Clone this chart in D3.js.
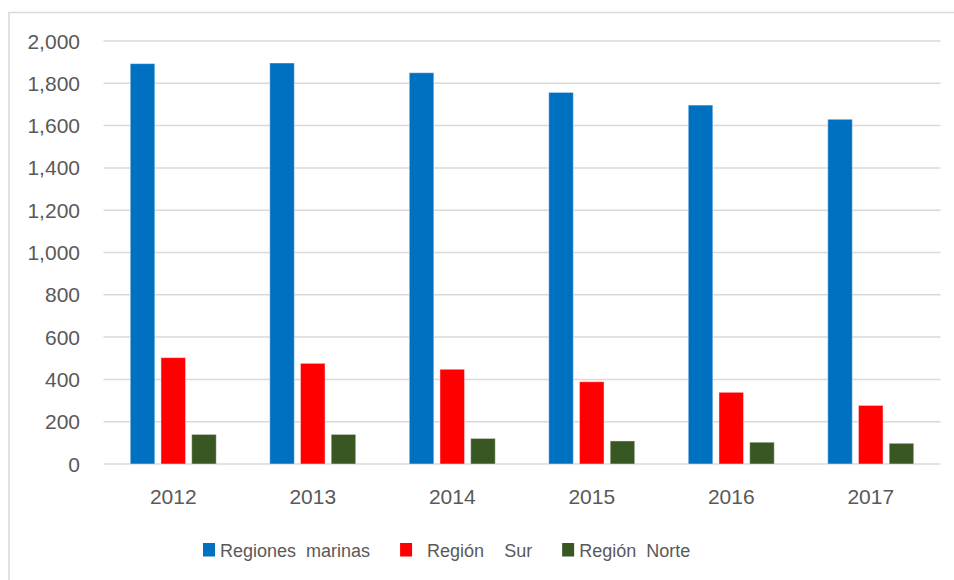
<!DOCTYPE html>
<html>
<head>
<meta charset="utf-8">
<script src="https://cdn.jsdelivr.net/npm/d3@7"></script>
<style>
  html, body { margin: 0; padding: 0; background: #fff; }
  svg text { font-family: "Liberation Sans", Arial, sans-serif; fill: #595959; }
</style>
</head>
<body>
<svg id="chart" width="954" height="580"></svg>
<script>
const years = ["2012", "2013", "2014", "2015", "2016", "2017"];
const seriesNames = ["Regiones  marinas", "  Región    Sur", "Región  Norte"];
const marinas = [1893, 1896, 1850, 1757, 1697, 1630];
const sur = [503, 476, 448, 389, 339, 277];
const norte = [140, 140, 121, 109, 103, 98];
const colors = ["#0070C0", "#FF0000", "#385723"];
const yTicks = [0, 200, 400, 600, 800, 1000, 1200, 1400, 1600, 1800, 2000];

const seriesValues = [marinas, sur, norte];
const svg = d3.select("#chart");

// frame (cropped Excel chart area border)
svg.append("path")
  .attr("d", "M9,580 L9,12.5 L954,12.5")
  .attr("fill", "none").attr("stroke", "#D9D9D9").attr("stroke-width", 1.5);

const plot = { left: 103.5, right: 940.5, top: 41, bottom: 464 };

const x0 = d3.scaleBand().domain(years)
  .range([plot.left, plot.right]).paddingInner(0.3835).paddingOuter(0.19175);
const x1 = d3.scaleBand().domain([0, 1, 2])
  .range([0, x0.bandwidth()]).paddingInner(0.2).paddingOuter(0);
const y = d3.scaleLinear().domain([0, 2000]).range([plot.bottom, plot.top]);

// gridlines
svg.append("g").selectAll("line").data(yTicks).join("line")
  .attr("x1", plot.left).attr("x2", plot.right)
  .attr("y1", d => y(d)).attr("y2", d => y(d))
  .attr("stroke", "#D9D9D9").attr("stroke-width", 1.5);

// y labels
const fmt = d3.format(",");
svg.append("g").selectAll("text").data(yTicks).join("text")
  .attr("x", 80).attr("y", d => y(d) + 7.5)
  .attr("text-anchor", "end").attr("font-size", 21)
  .text(d => fmt(d));

// bars
const groups = svg.append("g").selectAll("g").data(years).join("g")
  .attr("transform", d => `translate(${x0(d)},0)`);
groups.selectAll("rect")
  .data((d, i) => seriesValues.map((s, k) => ({ k, v: s[i] })))
  .join("rect")
  .attr("x", d => x1(d.k))
  .attr("width", x1.bandwidth())
  .attr("y", d => y(d.v))
  .attr("height", d => y(0) - y(d.v))
  .attr("fill", d => colors[d.k])
  .attr("stroke", "rgba(255,255,255,0.45)").attr("stroke-width", 1);

// x labels
svg.append("g").selectAll("text").data(years).join("text")
  .attr("x", d => x0(d) + x0.bandwidth() / 2)
  .attr("y", 504)
  .attr("text-anchor", "middle").attr("font-size", 21)
  .text(d => d);

// legend
const legend = svg.append("g");
let lx = 203;
seriesNames.forEach((name, k) => {
  legend.append("rect")
    .attr("x", lx).attr("y", 543).attr("width", 12).attr("height", 13.5)
    .attr("fill", colors[k]);
  const t = legend.append("text")
    .attr("x", lx + 17).attr("y", 556.5)
    .attr("font-size", 18)
    .attr("xml:space", "preserve")
    .style("white-space", "pre")
    .text(name);
  const w = t.node().getComputedTextLength();
  lx = lx + 17 + w + 30;
});
</script>
</body>
</html>
